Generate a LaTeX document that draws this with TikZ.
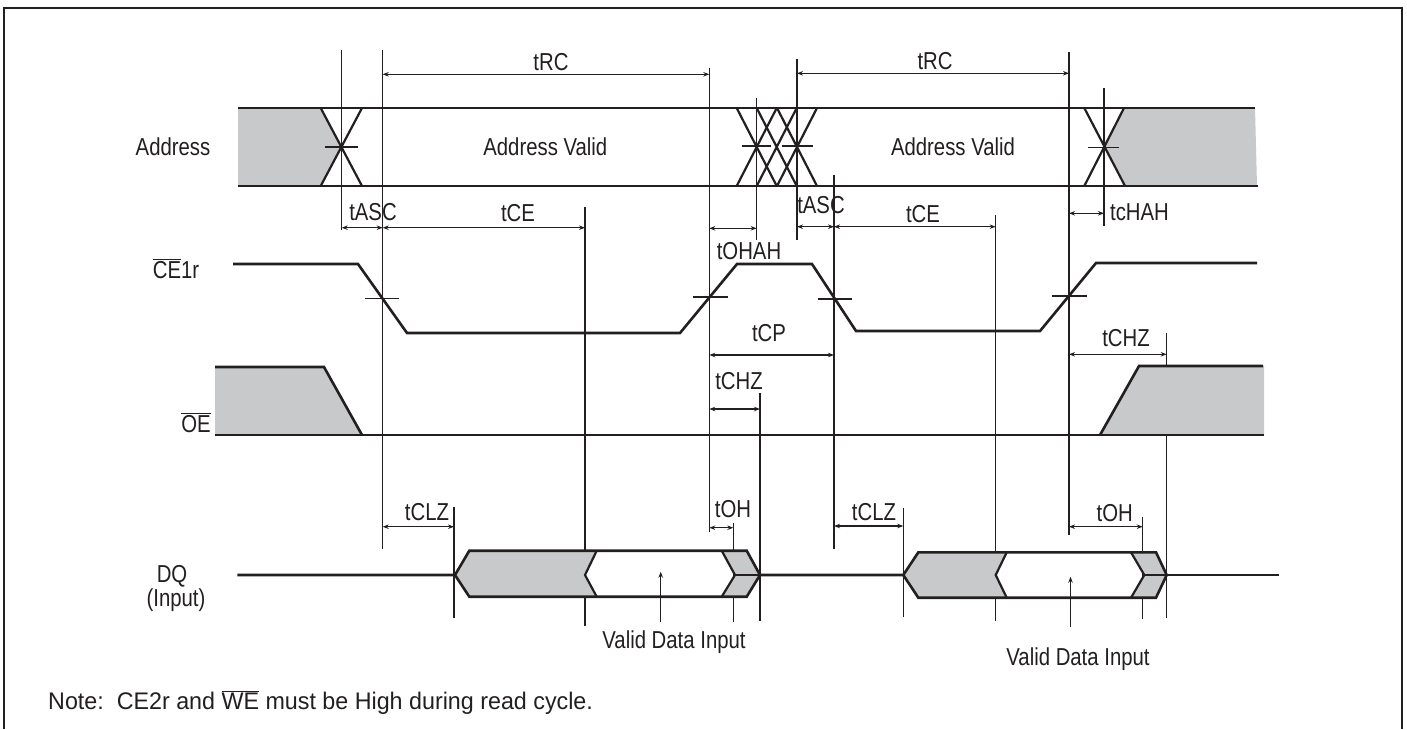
\documentclass[tikz,border=0pt]{standalone}
\usepackage{fontspec}
\setmainfont[FakeStretch=0.83]{Liberation Sans}
\newfontfamily\notefont[FakeStretch=0.97]{Liberation Sans}
\usetikzlibrary{arrows.meta}
\definecolor{sig}{RGB}{35,31,32}
\definecolor{fillg}{RGB}{200,201,203}
\newcommand{\ovb}[1]{$\overline{\mbox{#1}}$}
\begin{document}
\begin{tikzpicture}[x=1pt,y=-1pt,
  sigline/.style={line width=2.6pt, draw=sig, line join=miter},
  xline/.style={line width=2.2pt, draw=sig},
  chev/.style={line width=2.2pt, draw=sig, line join=miter},
  thin/.style={line width=1.2pt, draw=sig},
  tick/.style={line width=1.1pt, draw=sig},
  dim/.style={line width=1.1pt, draw=sig, {Stealth[length=6pt,width=4.5pt]}-{Stealth[length=6pt,width=4.5pt]}},
  uparrow/.style={line width=1.1pt, draw=sig, -{Stealth[length=6pt,width=4.5pt]}},
  lbl/.style={font=\fontsize{24.5}{28}\selectfont, text=sig, inner sep=0pt, anchor=base},
  note/.style={font=\notefont\fontsize{24}{28}\selectfont, text=sig, inner sep=0pt, anchor=base west},
]
\useasboundingbox (0,0) rectangle (1407,729);
% frame
\draw[line width=2.8pt, draw=sig] (4,729) -- (4,8) -- (1402,8) -- (1402,729);

% ---------- Address ----------
\fill[fillg] (238,108) -- (320.7,108) -- (341.3,147) -- (320.7,186) -- (238,186) -- cycle;
\fill[fillg] (1104,147) -- (1124,108) -- (1255,108) -- (1257,186) -- (1125,186) -- cycle;
\draw[sigline] (238,108) -- (1255,108);
\draw[sigline] (238,186) -- (1258,186);
\draw[xline] (320.7,108) -- (362,186) (362,108) -- (320.7,186);
\draw[xline] (736.7,108) -- (776.7,186) (776.7,108) -- (736.7,186);
\draw[xline] (756.7,108) -- (796.7,186) (796.7,108) -- (756.7,186);
\draw[xline] (777,108) -- (817,186) (817,108) -- (777,186);
\draw[xline] (1084.3,108) -- (1125,186) (1124,108) -- (1084.3,186);
\draw[tick] (325,147) -- (358,147);
\draw[tick] (742,146) -- (771,146);
\draw[tick] (782,146) -- (813,146);
\draw[tick] (1088,147.5) -- (1119,147.5);

% ---------- vertical reference lines ----------
\draw[thin] (341.7,50) -- (341.7,230);
\draw[thin] (382.7,50) -- (382.7,549);
\draw[thin] (585,207) -- (585,626);
\draw[thin] (709.3,68) -- (709.3,532);
\draw[thin] (756.7,98) -- (756.7,240);
\draw[thin] (797,59) -- (797,240);
\draw[thin] (834,175) -- (834,549);
\draw[thin] (995.7,215) -- (995.7,621);
\draw[thin] (1069,52) -- (1069,535);
\draw[thin] (1104,88) -- (1104,226);
\draw[thin] (760,393) -- (760,621);
\draw[thin] (1166.7,333) -- (1166.7,618);
\draw[thin] (454,507) -- (454,618);
\draw[thin] (903.3,508) -- (903.3,617);
\draw[thin] (733.3,523) -- (733.3,622);
\draw[thin] (1142.7,517) -- (1142.7,619);

% ---------- CE1r ----------
\draw[sigline] (233,264) -- (358,264) -- (407,333) -- (680,333) -- (737,264) -- (812,264) -- (856,331) -- (1040,331) -- (1096,263) -- (1257,263);
\draw[tick] (365,298.5) -- (399,298.5);
\draw[tick] (693,297) -- (728,297);
\draw[tick] (818,299) -- (852,299);
\draw[tick] (1052,296) -- (1087,296);

% ---------- OE ----------
\fill[fillg] (215,367) -- (324,367) -- (362,435) -- (215,435) -- cycle;
\fill[fillg] (1100,435) -- (1139,366) -- (1264,366) -- (1264,435) -- cycle;
\draw[sigline] (215,367) -- (324,367) -- (362,435);
\draw[sigline] (215,435) -- (1264,435);
\draw[sigline] (1100,435) -- (1139,366) -- (1263,366);

% ---------- DQ ----------
\fill[fillg] (455,575) -- (469.3,550.7) -- (596.7,550.7) -- (585,575) -- (596.7,596.7) -- (469.3,596.7) -- cycle;
\fill[fillg] (721.7,550.7) -- (746.7,550.7) -- (760,575) -- (746.7,596.7) -- (721.7,596.7) -- (735,575) -- cycle;
\fill[fillg] (903.3,575) -- (918.3,552.3) -- (1006.7,552.3) -- (995.7,575) -- (1006.7,597.7) -- (918.3,597.7) -- cycle;
\fill[fillg] (1131,552.3) -- (1156,552.3) -- (1166.7,575) -- (1156,597.7) -- (1131,597.7) -- (1144.3,575) -- cycle;
\draw[sigline] (237.3,575) -- (455,575) -- (469.3,550.7) -- (746.7,550.7) -- (760,575) -- (746.7,596.7) -- (469.3,596.7) -- (455,575);
\draw[sigline] (760,575) -- (903.3,575) -- (918.3,552.3) -- (1156,552.3) -- (1166.7,575) -- (1156,597.7) -- (918.3,597.7) -- (903.3,575);
\draw[sigline] (1166.7,575) -- (1279.3,575);
\draw[chev] (596.7,550.7) -- (585,575) -- (596.7,596.7);
\draw[chev] (721.7,550.7) -- (735,575) -- (721.7,596.7);
\draw[chev] (735,575) -- (760,575);
\draw[chev] (1006.7,552.3) -- (995.7,575) -- (1006.7,597.7);
\draw[chev] (1131,552.3) -- (1144.3,575) -- (1131,597.7);
\draw[chev] (1144.3,575) -- (1166.7,575);

% ---------- dimension arrows ----------
\draw[dim] (382.7,74.3) -- (709.3,74.3);
\draw[dim] (797,73.3) -- (1069,73.3);
\draw[dim] (341.7,227.7) -- (382.7,227.7);
\draw[dim] (382.7,227.7) -- (585,227.7);
\draw[dim] (709.3,228.3) -- (756.7,228.3);
\draw[dim] (797,226.7) -- (834,226.7);
\draw[dim] (834,226.7) -- (995.7,226.7);
\draw[dim] (1069,213.3) -- (1104,213.3);
\draw[dim] (709.3,355) -- (834,355);
\draw[dim] (709.3,409) -- (760,409);
\draw[dim] (1069,354.3) -- (1166.7,354.3);
\draw[dim] (382.7,526.7) -- (454,526.7);
\draw[dim] (834,526) -- (903.3,526);
\draw[dim] (709.3,527.7) -- (733.3,527.7);
\draw[dim] (1069,526.7) -- (1142.7,526.7);
\draw[uparrow] (660.7,621.7) -- (660.7,571.7);
\draw[uparrow] (1070.5,626.7) -- (1070.5,576.7);

% ---------- labels ----------
\node[lbl] (trc1) at (551,70) {tRC};
\node[lbl] (trc2) at (935,69) {tRC};
\node[lbl] (tasc1) at (373,220) {tASC};
\node[lbl] (tce1) at (518,221.7) {tCE};
\node[lbl] (tasc2) at (821,213) {tASC};
\node[lbl] (tce2) at (923,222.5) {tCE};
\node[lbl] (tohah) at (749,259) {tOHAH};
\node[lbl] (tchah) at (1139.5,220) {tcHAH};
\node[lbl] (tcp) at (769,341.7) {tCP};
\node[lbl] (tchz1) at (739,389) {tCHZ};
\node[lbl] (tchz2) at (1126,346.7) {tCHZ};
\node[lbl] (tclz1) at (427,520) {tCLZ};
\node[lbl] (tclz2) at (874,520) {tCLZ};
\node[lbl] (toh1) at (733,517) {tOH};
\node[lbl] (toh2) at (1114.7,521.7) {tOH};
\node[lbl] (av1) at (545.3,155) {Address Valid};
\node[lbl] (av2) at (953,155) {Address Valid};
\node[lbl] (vdi1) at (674,648) {Valid Data Input};
\node[lbl] (vdi2) at (1078,665) {Valid Data Input};
\node[lbl] (addr) at (173,155) {Address};
\node[lbl] (ce1r) at (176,278) {\ovb{CE}1r};
\node[lbl] (oe) at (196,432) {\ovb{OE}};
\node[lbl] (dq) at (172,582) {DQ};
\node[lbl] (inp) at (176,606) {(Input)};
\node[note] (nt) at (48,709) {Note:\ \ CE2r and \ovb{WE} must be High during read cycle.};
\end{tikzpicture}
\end{document}
